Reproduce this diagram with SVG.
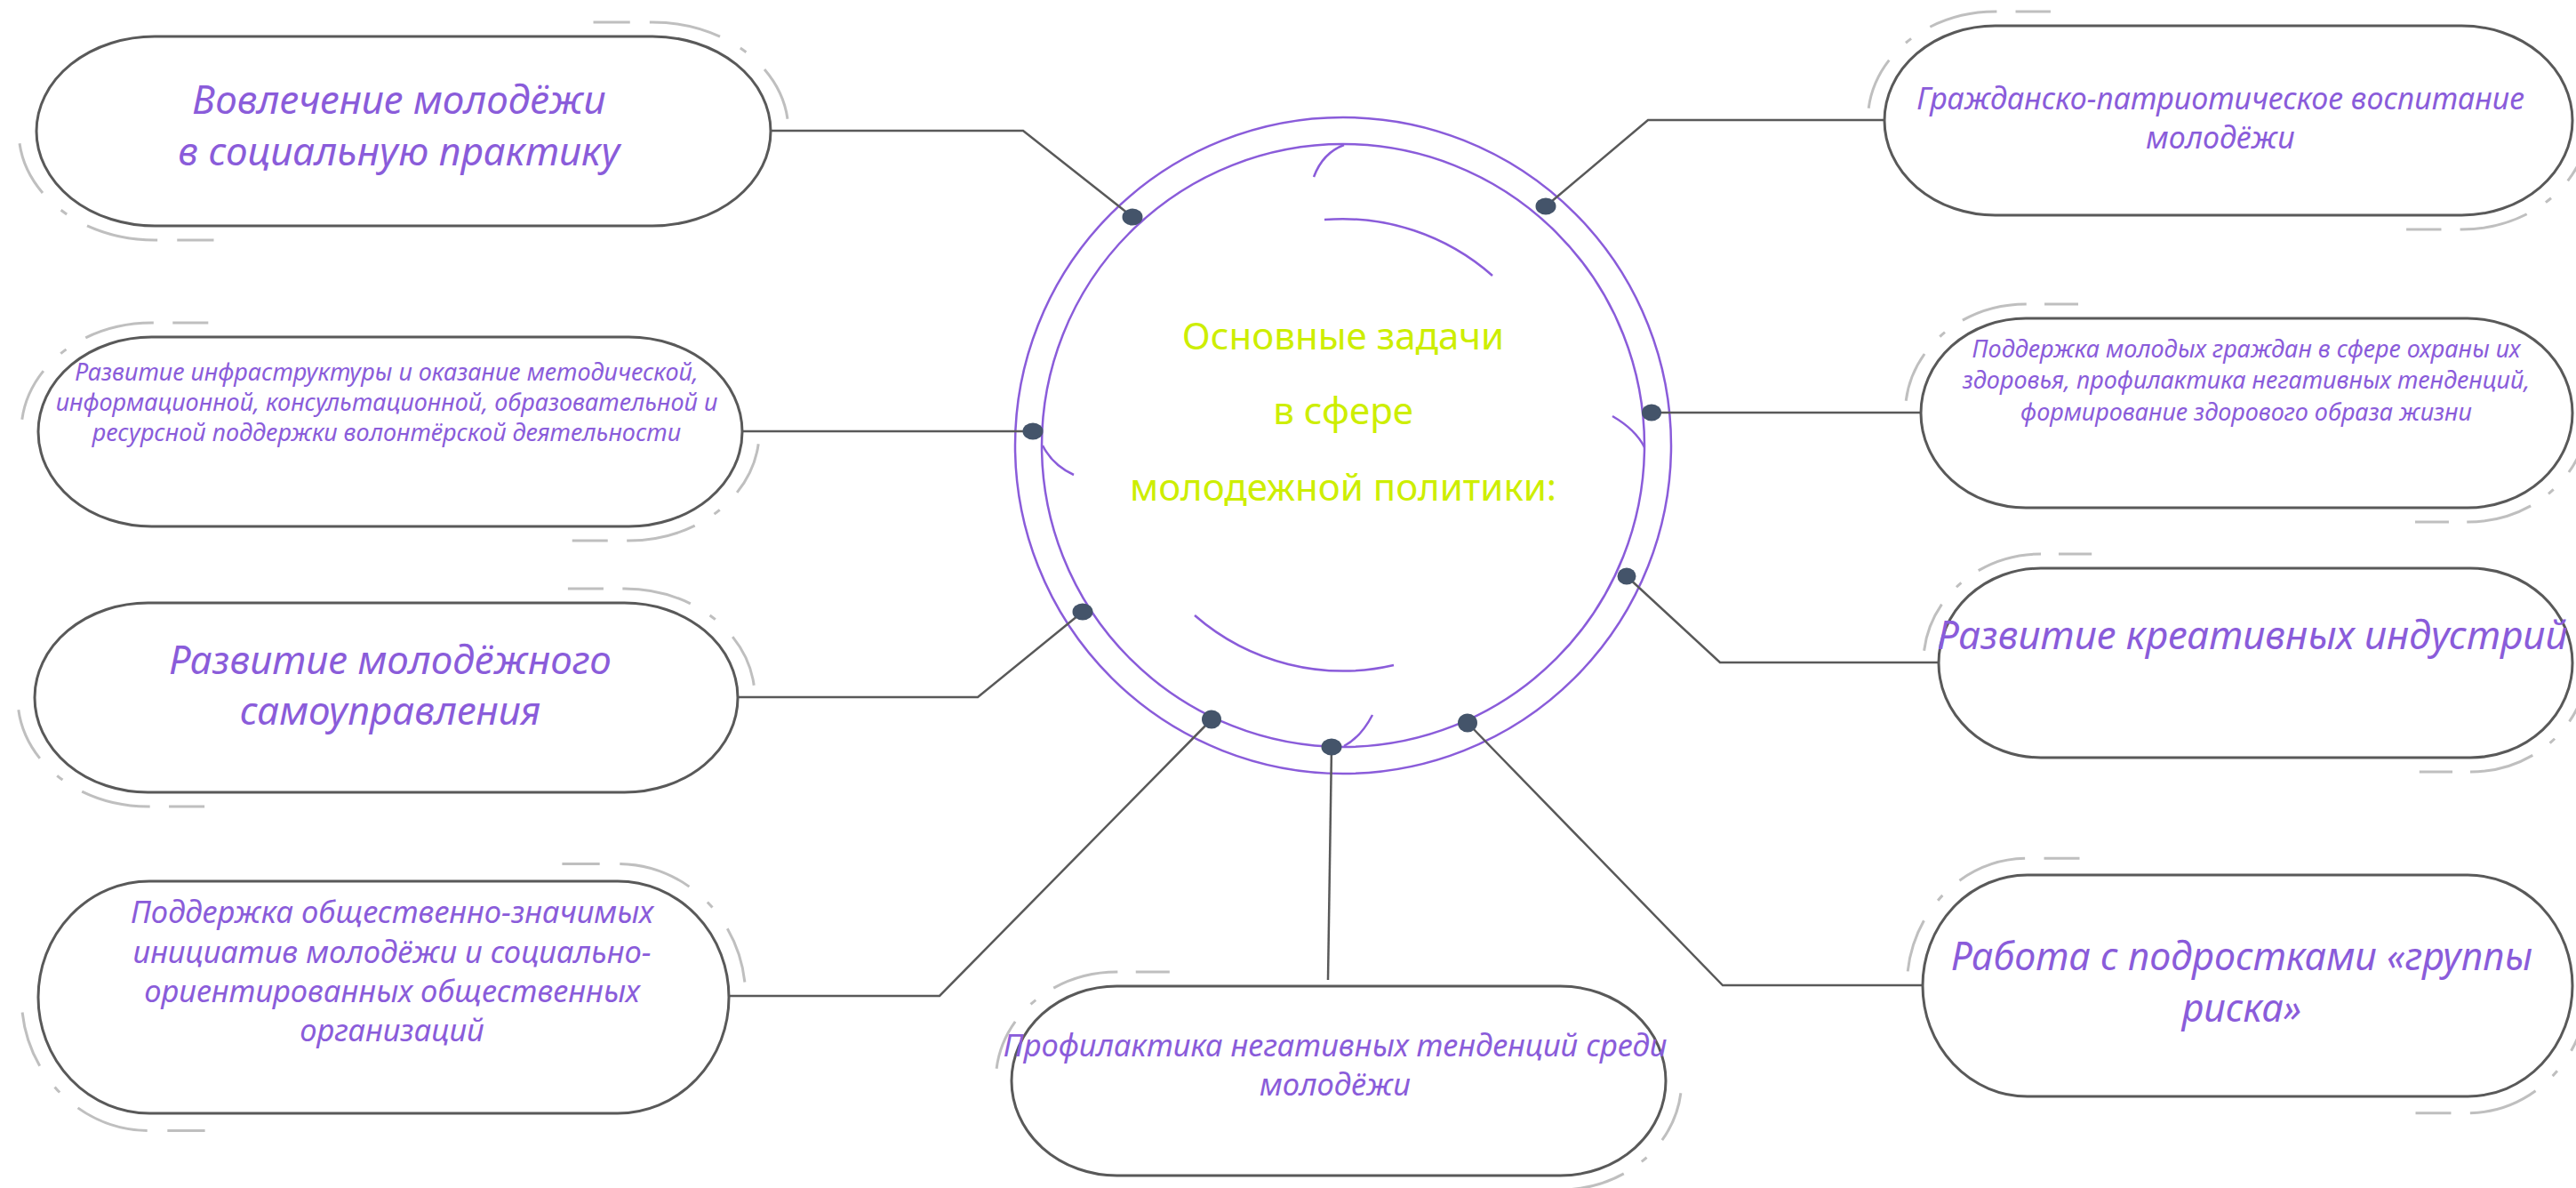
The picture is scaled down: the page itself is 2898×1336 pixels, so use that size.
<svg xmlns="http://www.w3.org/2000/svg" width="2898" height="1336" viewBox="0 0 2898 1336">
<style>
.box{fill:#fff;stroke:#595959;stroke-width:3}
.deco{fill:none;stroke:#BFBFBF;stroke-width:3;stroke-dasharray:15.3 8.2 30.2 9.7 3 10.5 23.1 100}
.t{font-family:'Noto Sans','Open Sans',sans-serif;font-style:italic;fill:#8A5CDA;text-anchor:middle}
.c{font-family:'Noto Sans','Open Sans',sans-serif;fill:#CDEE00;text-anchor:middle;font-size:42px}
.ring{fill:none;stroke:#8A5CDA;stroke-width:2.5}
.ln{fill:none;stroke:#595959;stroke-width:2.5}
.dot{fill:#44546A}
</style>
<rect width="2898" height="1336" fill="#fff"/>
<g id="center">
<circle class="ring" cx="1511" cy="501" r="369"/>
<circle class="ring" cx="1511" cy="501" r="339"/>
<path class="ring" d="M1512,163 Q1488,172 1478,199"/>
<path class="ring" d="M1490,247 A255,255 0 0 1 1679,310"/>
<path class="ring" d="M1173,501 Q1184,523 1208,534"/>
<path class="ring" d="M1814,468 Q1840,483 1850,503"/>
<path class="ring" d="M1568,748 A254,254 0 0 1 1344,692"/>
<path class="ring" d="M1544,804 Q1531,829 1512,839"/>
<text class="c" x="1511" y="393">Основные задачи</text>
<text class="c" x="1511" y="477">в сфере</text>
<text class="c" x="1511" y="563">молодежной политики:</text>
</g>
<g id="connectors">
<polyline class="ln" points="867,147 1151,147 1274,244"/>
<polyline class="ln" points="835,485 1162,485"/>
<polyline class="ln" points="830,784 1100,784 1218,688"/>
<polyline class="ln" points="820,1120 1057,1120 1363,809"/>
<polyline class="ln" points="1494,1102 1498,840"/>
<polyline class="ln" points="2120,135 1854,135 1739,232"/>
<polyline class="ln" points="2161,464 1858,464"/>
<polyline class="ln" points="2181,745 1935,745 1830,648"/>
<polyline class="ln" points="2163,1108 1938,1108 1651,813"/>
<ellipse class="dot" cx="1274" cy="244" rx="11.5" ry="9.5"/>
<ellipse class="dot" cx="1162" cy="485" rx="11.5" ry="9.5"/>
<ellipse class="dot" cx="1218" cy="688" rx="11.5" ry="9.5"/>
<ellipse class="dot" cx="1363" cy="809" rx="11" ry="10.5"/>
<ellipse class="dot" cx="1498" cy="840" rx="11.5" ry="9.5"/>
<ellipse class="dot" cx="1739" cy="232" rx="11.5" ry="9.5"/>
<ellipse class="dot" cx="1858" cy="464" rx="11" ry="9.5"/>
<ellipse class="dot" cx="1830" cy="648" rx="10.5" ry="9.5"/>
<ellipse class="dot" cx="1651" cy="813" rx="11" ry="10.5"/>
</g>
<g id="node1">
<path class="deco" pathLength="100" d="M667.5,25 H734 A153,122.5 0 0 1 886,133.7"/>
<path class="deco" pathLength="100" d="M240.5,270 H174 A153,122.5 0 0 1 22,161.3"/>
<rect class="box" x="41" y="41" width="826" height="213" rx="133" ry="106.5"/>
<text class="t" font-size="44"><tspan x="449" y="128">Вовлечение молодёжи</tspan><tspan x="449" y="186">в социальную практику</tspan></text>
</g>
<g id="node2">
<path class="deco" pathLength="100" d="M234.3,363 H170.5 A146.6,122.5 0 0 0 24.8,471.7"/>
<path class="deco" pathLength="100" d="M643.7,608 H707.5 A146.6,122.5 0 0 0 853.2,499.3"/>
<rect class="box" x="43" y="379" width="792" height="213" rx="127.5" ry="106.5"/>
<text class="t" font-size="27"><tspan x="435" y="428">Развитие инфраструктуры и оказание методической,</tspan><tspan x="435" y="462">информационной, консультационной, образовательной и</tspan><tspan x="435" y="496">ресурсной поддержки волонтёрской деятельности</tspan></text>
</g>
<g id="node3">
<path class="deco" pathLength="100" d="M638.9,662 H702.6 A146.5,122.5 0 0 1 848.2,770.7"/>
<path class="deco" pathLength="100" d="M230.1,907 H166.4 A146.5,122.5 0 0 1 20.8,798.3"/>
<rect class="box" x="39" y="678" width="791" height="213" rx="127.4" ry="106.5"/>
<text class="t" font-size="44"><tspan x="439" y="758">Развитие молодёжного</tspan><tspan x="439" y="815">самоуправления</tspan></text>
</g>
<g id="node4">
<path class="deco" pathLength="100" d="M632.4,971.4 H694.9 A143.9,150.1 0 0 1 837.9,1104.5"/>
<path class="deco" pathLength="100" d="M230.6,1271.6 H168.1 A143.9,150.1 0 0 1 25.1,1138.5"/>
<rect class="box" x="43" y="991" width="777" height="261" rx="125.1" ry="130.5"/>
<text class="t" font-size="34.5"><tspan x="441" y="1038">Поддержка общественно-значимых</tspan><tspan x="441" y="1083">инициатив молодёжи и социально-</tspan><tspan x="441" y="1127">ориентированных общественных</tspan><tspan x="441" y="1171">организаций</tspan></text>
</g>
<g id="node5">
<path class="deco" pathLength="100" d="M1315.8,1093 H1256.5 A136.3,122.5 0 0 0 1121.1,1201.7"/>
<path class="deco" pathLength="100" d="M1696.2,1338 H1755.5 A136.3,122.5 0 0 0 1890.9,1229.3"/>
<rect class="box" x="1138" y="1109" width="736" height="213" rx="118.5" ry="106.5"/>
<text class="t" font-size="34.5"><tspan x="1502" y="1188">Профилактика негативных тенденций среди</tspan><tspan x="1502" y="1232">молодёжи</tspan></text>
</g>
<g id="node6">
<path class="deco" pathLength="100" d="M2306.9,13 H2244.6 A143.3,122.5 0 0 0 2102.2,121.7"/>
<path class="deco" pathLength="100" d="M2707.1,258 H2769.4 A143.3,122.5 0 0 0 2911.8,149.3"/>
<rect class="box" x="2120" y="29" width="774" height="213" rx="124.6" ry="106.5"/>
<text class="t" font-size="34"><tspan x="2498" y="123">Гражданско-патриотическое воспитание</tspan><tspan x="2498" y="167">молодёжи</tspan></text>
</g>
<g id="node7">
<path class="deco" pathLength="100" d="M2338,342 H2279 A135.7,122.5 0 0 0 2144.2,450.7"/>
<path class="deco" pathLength="100" d="M2717,587 H2776 A135.7,122.5 0 0 0 2910.8,478.3"/>
<rect class="box" x="2161" y="358" width="733" height="213" rx="118" ry="106.5"/>
<text class="t" font-size="27"><tspan x="2527" y="402">Поддержка молодых граждан в сфере охраны их</tspan><tspan x="2527" y="437">здоровья, профилактика негативных тенденций,</tspan><tspan x="2527" y="473">формирование здорового образа жизни</tspan></text>
</g>
<g id="node8">
<path class="deco" pathLength="100" d="M2353.2,623 H2295.8 A132,122.5 0 0 0 2164.6,731.7"/>
<path class="deco" pathLength="100" d="M2721.8,868 H2779.2 A132,122.5 0 0 0 2910.4,759.3"/>
<rect class="box" x="2181" y="639" width="713" height="213" rx="114.8" ry="106.5"/>
<text class="t" font-size="44"><tspan x="2534" y="730">Развитие креативных индустрий</tspan></text>
</g>
<g id="node9">
<path class="deco" pathLength="100" d="M2339.5,965.3 H2280.7 A135.4,143.2 0 0 0 2146.2,1092.3"/>
<path class="deco" pathLength="100" d="M2717.5,1251.7 H2776.3 A135.4,143.2 0 0 0 2910.8,1124.7"/>
<rect class="box" x="2163" y="984" width="731" height="249" rx="117.7" ry="124.5"/>
<text class="t" font-size="43"><tspan x="2522" y="1091">Работа с подростками «группы</tspan><tspan x="2522" y="1149">риска»</tspan></text>
</g>
</svg>
